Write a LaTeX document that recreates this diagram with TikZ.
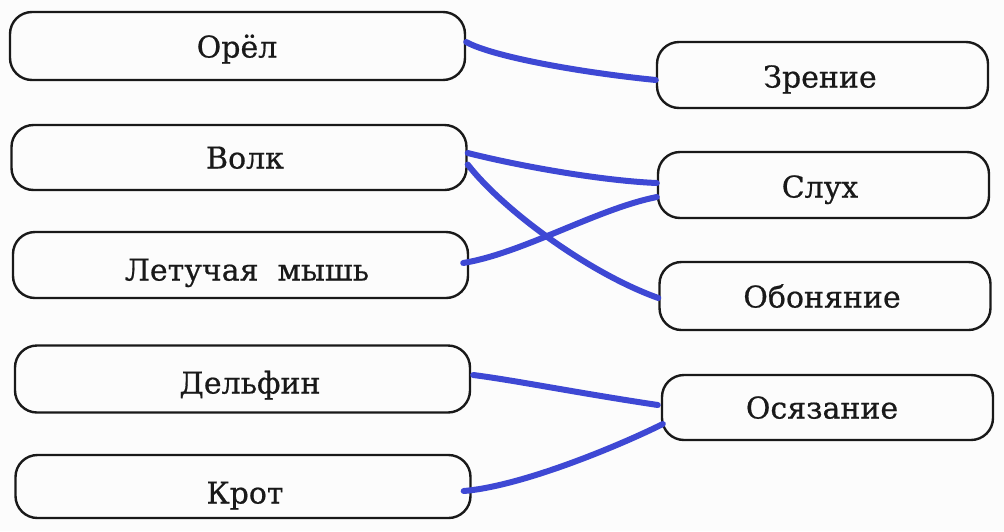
\documentclass[tikz,border=0pt]{standalone}
\usepackage{fontspec}
\setmainfont[FakeBold=0.6]{DejaVu Serif}
\definecolor{pen}{RGB}{62,72,212}
\definecolor{paper}{RGB}{252,252,252}
\tikzset{
  box/.style={draw=black!90, line width=2.4pt, rounded corners=22pt, inner sep=0pt},
  lbox/.style={box, minimum width=455pt, minimum height=66pt},
  rbox/.style={box, minimum width=331pt, minimum height=66pt},
  lbl/.style={inner sep=0pt, text height=21pt, text depth=0pt,
    font=\fontsize{30}{32}\selectfont, text=black!90},
  link/.style={draw=pen, line width=6pt, line cap=round, line join=round},
}
\begin{document}
\begin{tikzpicture}[x=1pt,y=-1pt]
\fill[paper] (0,0) rectangle (1004,531);
\useasboundingbox (0,0) rectangle (1004,531);
% left column
\node[lbox, minimum height=68pt] (orel) at (237.5,46) {};
\node[lbox, minimum height=65pt] (volk) at (239,157.5) {};
\node[lbox] (mysh) at (240.5,265) {};
\node[lbox, minimum height=67pt] (delf) at (242.5,379) {};
\node[lbox, minimum height=63pt] (krot) at (243,486.5) {};
% right column
\node[rbox] (zren) at (822.5,75) {};
\node[rbox] (sluh) at (823.5,185) {};
\node[rbox, minimum height=68pt] (obon) at (825,296) {};
\node[rbox, minimum height=65pt] (osyaz) at (827.5,407.5) {};
% labels
\node[lbl] (torel) at (237,47) {Орёл};
\node[lbl] (tvolk) at (245,158) {Волк};
\node[lbl] (tmysh) at (247,270) {Летучая\ \ мышь};
\node[lbl] (tdelf) at (250,383) {Дельфин};
\node[lbl] (tkrot) at (245,493) {Крот};
\node[lbl] (tzren) at (820,77) {Зрение};
\node[lbl] (tsluh) at (820,187) {Слух};
\node[lbl] (tobon) at (822,297) {Обоняние};
\node[lbl] (tosyaz) at (822,408) {Осязание};
% connectors
\draw[link] ([yshift=4pt]orel.east) .. controls ++(25,14) and ++(-80,-8) .. ([yshift=-5pt]zren.west);
\draw[link] ([yshift=4.5pt]volk.east) .. controls ++(60,15) and ++(-50,-2) .. ([yshift=2pt]sluh.west);
\draw[link] ([yshift=-7pt]volk.east) .. controls ++(35,45) and ++(-70,-25) .. ([yshift=-2pt]obon.west);
\draw[link] ([xshift=-6pt,yshift=2pt]mysh.east) .. controls ++(60,-10) and ++(-60,12) .. ([yshift=-12pt]sluh.west);
\draw[link] ([xshift=2pt,yshift=4pt]delf.east) .. controls ++(40,5) and ++(-80,-12) .. ([xshift=-3pt,yshift=2.5pt]osyaz.west);
\draw[link] ([xshift=-8pt,yshift=-4.5pt]krot.east) .. controls ++(60,-5) and ++(-40,20) .. ([xshift=2pt,yshift=-16.5pt]osyaz.west);
\end{tikzpicture}
\end{document}
